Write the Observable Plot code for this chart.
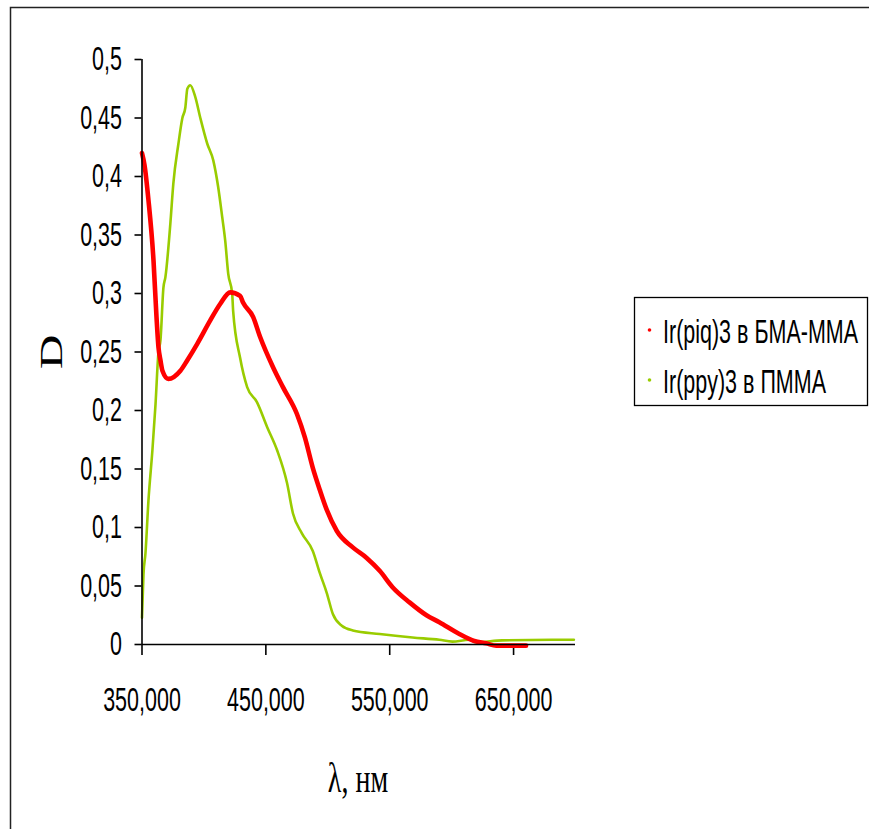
<!DOCTYPE html>
<html>
<head>
<meta charset="utf-8">
<script src="https://cdn.jsdelivr.net/npm/d3@7"></script>
<script src="https://cdn.jsdelivr.net/npm/@observablehq/plot@0.6"></script>
<style>
  html, body { margin: 0; padding: 0; background: #fff; overflow: hidden; }
  #chart svg { display: block; }
</style>
</head>
<body>
<div id="chart"></div>
<script>
// Series names (legend)
const seriesNames = ["Ir(piq)3 в БМА-ММА", "Ir(ppy)3 в ПММА"];
const seriesColors = ["#ff0000", "#99cc00"];

// Ir(piq)3 в БМА-ММА : wavelength (nm) and optical density D
const piqWavelength = [350.0, 352.0, 355.2, 359.3, 361.7, 363.3, 364.9, 366.5, 371.3, 381.0, 386.6, 394.6, 405.1, 413.1, 421.2, 429.2, 431.7, 439.7, 445.3, 455.8, 463.8, 475.1, 481.5, 487.9, 493.6, 499.2, 507.3, 520.2, 531.4, 541.9, 552.3, 566.0, 579.7, 590.1, 606.2, 618.3, 627.9, 636.0, 660.1];
const piqD = [0.42, 0.41, 0.38, 0.328, 0.28, 0.254, 0.243, 0.234, 0.227, 0.234, 0.243, 0.257, 0.277, 0.291, 0.301, 0.298, 0.292, 0.28, 0.263, 0.237, 0.22, 0.197, 0.177, 0.151, 0.132, 0.115, 0.097, 0.083, 0.074, 0.063, 0.049, 0.036, 0.025, 0.019, 0.009, 0.003, 0.001, -0.001, -0.001];

// Ir(ppy)3 в ПММА
const ppyWavelength = [350.0, 351.2, 352.8, 355.2, 358.4, 360.9, 363.3, 364.9, 367.3, 368.9, 372.9, 375.3, 379.4, 382.6, 385.0, 386.6, 389.0, 393.0, 397.1, 402.7, 407.5, 411.5, 414.8, 417.2, 419.6, 422.8, 423.6, 429.2, 434.9, 442.9, 451.0, 459.1, 467.1, 471.9, 479.1, 487.9, 493.6, 499.2, 504.1, 511.3, 520.2, 541.9, 568.4, 590.1, 600.6, 614.3, 619.9, 640.8, 681.0, 698.7];
const ppyD = [0.023, 0.06, 0.078, 0.123, 0.166, 0.205, 0.25, 0.26, 0.305, 0.314, 0.36, 0.394, 0.428, 0.45, 0.459, 0.475, 0.478, 0.468, 0.45, 0.428, 0.414, 0.391, 0.365, 0.345, 0.317, 0.30, 0.285, 0.245, 0.22, 0.207, 0.186, 0.166, 0.138, 0.112, 0.095, 0.08, 0.061, 0.044, 0.026, 0.016, 0.012, 0.009, 0.006, 0.004, 0.0025, 0.004, 0.002, 0.0035, 0.004, 0.004];

// Axis ticks
const xTicks = [350, 450, 550, 650];
const yTicks = [0, 0.05, 0.1, 0.15, 0.2, 0.25, 0.3, 0.35, 0.4, 0.45, 0.5];
const xTitle = "λ, нм";
const yTitle = "D";

const piq = piqWavelength.map((w, i) => ({w, d: piqD[i]}));
const ppy = ppyWavelength.map((w, i) => ({w, d: ppyD[i]}));

const fmtX = d => d.toFixed(3).replace(".", ",");
const fmtY = d => String(+d.toFixed(2)).replace(".", ",");

const W = 869, H = 829;
const plot = Plot.plot({
  width: W,
  height: H,
  marginLeft: 141.5,
  marginRight: W - 575,
  marginTop: 59,
  marginBottom: H - 644,
  style: {fontFamily: "'Liberation Sans', Arial, sans-serif", fontSize: "21.5px", background: "#fff", color: "#000"},
  x: {domain: [350, 700], ticks: xTicks, tickFormat: fmtX, tickSize: 11, tickPadding: 32, label: null},
  y: {domain: [0, 0.5], ticks: yTicks, tickFormat: fmtY, tickSize: 7, tickPadding: 13, label: null},
  marks: [
    Plot.line(ppy, {x: "w", y: "d", stroke: seriesColors[1], strokeWidth: 2.6, curve: "monotone-x"}),
    Plot.line(piq, {x: "w", y: "d", stroke: seriesColors[0], strokeWidth: 4.6, curve: "monotone-x"}),
    Plot.ruleY([0], {stroke: "#000", strokeWidth: 1.6}),
    Plot.ruleX([350], {stroke: "#000", strokeWidth: 1.6})
  ]
});

const svg = d3.select(plot);
// stretch tick labels vertically (condensed look of original)
svg.selectAll('g[aria-label="x-axis tick label"] text, g[aria-label="y-axis tick label"] text')
  .attr("transform", function() { return (this.getAttribute("transform") || "") + " scale(1,1.55)"; });
svg.selectAll('g[aria-label="x-axis tick"] path, g[aria-label="y-axis tick"] path').attr("stroke-width", 1.6);

// outer frame (left and top edges)
svg.append("path").attr("d", `M10.5,${H} V7.5 H${W}`).attr("fill", "none").attr("stroke", "#222").attr("stroke-width", 1.5);

// axis titles
svg.append("text").text(yTitle)
  .attr("transform", "translate(51,352) scale(1,1.5) rotate(-90)")
  .attr("text-anchor", "middle").attr("dy", "0.33em")
  .attr("font-family", "'Liberation Serif', 'Times New Roman', serif").attr("font-size", 32).attr("fill", "#000");
svg.append("text").text(xTitle)
  .attr("transform", "translate(358,792) scale(1,1.5)")
  .attr("text-anchor", "middle")
  .attr("font-family", "'Liberation Serif', 'Times New Roman', serif").attr("font-size", 28).attr("fill", "#000");

// legend
const lg = svg.append("g");
lg.append("rect").attr("x", 634.5).attr("y", 297.5).attr("width", 233).attr("height", 108)
  .attr("fill", "#fff").attr("stroke", "#000").attr("stroke-width", 1.3);
const rowsY = [343, 393];
seriesNames.forEach((name, i) => {
  lg.append("circle").attr("cx", 649.5).attr("cy", rowsY[i] - 13).attr("r", 1.8).attr("fill", seriesColors[i]);
  lg.append("text").text(name)
    .attr("transform", `translate(663,${rowsY[i]}) scale(1,1.55)`)
    .attr("text-anchor", "start")
    .attr("font-family", "'Liberation Sans', Arial, sans-serif").attr("font-size", 21.5).attr("fill", "#000");
});

document.getElementById("chart").appendChild(plot);
</script>
</body>
</html>
